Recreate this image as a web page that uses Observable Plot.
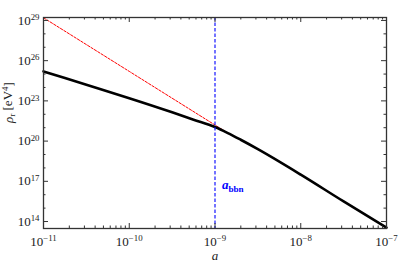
<!DOCTYPE html>
<html><head><meta charset="utf-8">
<script src="https://cdn.jsdelivr.net/npm/d3@7"></script>
<script src="https://cdn.jsdelivr.net/npm/@observablehq/plot@0.6"></script>
<style>body{margin:0;background:#fff}</style>
</head><body><div id="chart"></div>
<script>
// black solid curve: log10(a), log10(rho_r)
const logA = [-11, -10.5, -10, -9.5, -9.25, -9, -8.85, -8.7, -8.5, -8, -7.5, -7];
const logRho = [25.2, 24.2, 23.2, 22.15, 21.6, 21.05, 20.6, 20.1, 19.4, 17.5, 15.5, 13.55];
// red dashed curve
const redLogA = [-11, -10, -9, -8.85];
const redLogRho = [29.2, 25.2, 21.2, 20.6];
const aBBN = 1e-9;
const bbnLabelLogRho = 16.75;
const xTickExp = [-11, -10, -9, -8, -7];
const yTickExp = [29, 26, 23, 20, 17, 14];
const yMinorExp = [28, 27, 25, 24, 22, 21, 19, 18, 16, 15];
const xLabel = "a";
const yLabel = "ρ_r [eV^4]";
const bbnLabel = "a_bbn";

const W = 399, H = 264, ML = 43, MR = 13, MT = 17, MB = 36;
const PW = W - ML - MR, PH = H - MT - MB;

const black = logA.map((v, i) => ({a: 10 ** v, rho: 10 ** logRho[i]}));
const red = redLogA.map((v, i) => ({a: 10 ** v, rho: 10 ** redLogRho[i]}));
const xMajor = xTickExp.map(e => 10 ** e);
const xMinor = [];
for (const e of xTickExp.slice(0, -1)) for (let m = 2; m <= 9; m++) xMinor.push(m * 10 ** e);
const yMajor = yTickExp.map(e => 10 ** e);
const yMinor = yMinorExp.map(e => 10 ** e);
const fmt = d => "10^" + Math.round(Math.log10(d));

const tickStyle = {stroke: "#333", strokeWidth: 1};
const xt = (data, len) => [
  Plot.tickX(data, {x: d => d, insetTop: PH - len, ...tickStyle}),
  Plot.tickX(data, {x: d => d, insetBottom: PH - len, ...tickStyle})
];
const yt = (data, len) => [
  Plot.tickY(data, {y: d => d, insetRight: PW - len, ...tickStyle}),
  Plot.tickY(data, {y: d => d, insetLeft: PW - len, ...tickStyle})
];

const plot = Plot.plot({
  width: W, height: H,
  marginLeft: ML, marginRight: MR, marginTop: MT, marginBottom: MB,
  style: {fontFamily: "Liberation Serif", fontSize: "13px", background: "#fff", color: "#222"},
  x: {type: "log", domain: [1e-11, 1e-7]},
  y: {type: "log", domain: [10 ** 13.48, 10 ** 29.22]},
  marks: [
    Plot.line(red, {x: "a", y: "rho", stroke: "#ff0000", strokeWidth: 1, strokeDasharray: "2.5,1.5"}),
    Plot.line(black, {x: "a", y: "rho", stroke: "#000", strokeWidth: 2.6, curve: "monotone-x"}),
    Plot.ruleX([aBBN], {stroke: "#0000ff", strokeWidth: 1.1, strokeDasharray: "3.5,2"}),
    Plot.text([aBBN], {x: d => d, y: () => 10 ** bbnLabelLogRho, text: () => bbnLabel, dx: 7, textAnchor: "start", fill: "#0000ff", fontSize: 13, fontWeight: "bold", fontStyle: "italic"}),
    Plot.axisX({anchor: "bottom", ticks: xMajor, tickSize: 0, tickPadding: 8, tickFormat: fmt, fontSize: 13, label: null}),
    Plot.axisY({anchor: "left", ticks: yMajor, tickSize: 0, tickPadding: 4, tickFormat: fmt, fontSize: 13, label: null}),
    ...xt(xMajor, 5), ...xt(xMinor, 2.5),
    ...yt(yMajor, 5), ...yt(yMinor, 2.5),
    Plot.text([xLabel], {frameAnchor: "bottom", dy: 31, text: d => d, fontStyle: "italic", fontSize: 13}),
    Plot.text([yLabel], {frameAnchor: "left", dx: -35, rotate: -90, text: d => d, fontSize: 13}),
    Plot.frame({stroke: "#333", strokeWidth: 1.3})
  ]
});
document.getElementById("chart").appendChild(plot);

d3.select(plot).selectAll("text").each(function () {
  const s = d3.select(this);
  const t = this.textContent;
  let m = t.match(/^10\^(-?\d+)$/);
  if (m) {
    s.text("10");
    s.append("tspan").attr("dy", "-0.5em").attr("font-size", "0.68em").text(m[1].replace("-", "\u2212"));
    return;
  }
  if (t === yLabel) {
    s.text("");
    s.append("tspan").attr("font-style", "italic").text("ρ");
    s.append("tspan").attr("dy", "0.3em").attr("font-size", "0.7em").text("r");
    s.append("tspan").attr("dy", "-0.3em").text(" [eV");
    s.append("tspan").attr("dy", "-0.45em").attr("font-size", "0.68em").text("4");
    s.append("tspan").attr("dy", "0.45em").text("]");
    return;
  }
  if (t === bbnLabel) {
    s.text("");
    s.append("tspan").text("a");
    s.append("tspan").attr("dy", "0.3em").attr("font-size", "0.7em").attr("font-style", "normal").text("bbn");
  }
});
</script></body></html>
